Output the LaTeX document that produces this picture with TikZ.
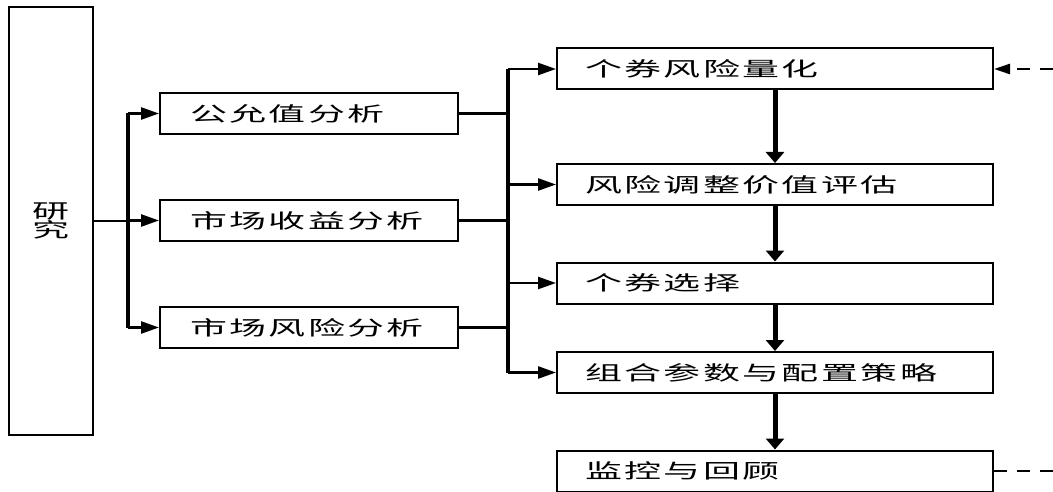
\documentclass[tikz,border=0pt]{standalone}
\usepackage{fontspec}
\usepackage{tikz}
\usetikzlibrary{arrows.meta,calc,positioning}
\newfontfamily\cjk[FakeStretch=1.85,LetterSpace=12]{Noto Sans CJK SC}
\tikzset{
  resbox/.style={draw, line width=2pt, minimum width=84pt, minimum height=428pt,
                 font=\cjk\fontsize{20}{19}\selectfont, align=center, inner sep=0pt},
  midbox/.style={draw, line width=2pt, minimum width=298pt, minimum height=41pt,
                 text width=238pt, align=left, font=\cjk\fontsize{20}{24}\selectfont},
  stepbox/.style={draw, line width=2pt, minimum width=436pt, minimum height=41pt,
                  text width=380pt, align=left, font=\cjk\fontsize{20}{24}\selectfont},
  wire/.style={line width=2.5pt},                                        % plain link
  bus/.style={line width=4.5pt},                                         % thick bus bar
  arr/.style={-{Triangle[length=18pt,width=12pt]}, line width=2.5pt},   % bus -> box
  flow/.style={-{Triangle[length=11pt,width=18pt]}, line width=5pt},    % step -> step
  fb/.style={dash pattern=on 13pt off 10pt, line width=2.5pt},         % feedback
  fbarr/.style={fb, -{Triangle[length=16pt,width=10pt]}},
}

\begin{document}
\begin{tikzpicture}[x=1pt,y=-1pt]
  \useasboundingbox (0,0) rectangle (1053,492);
  \def\LB{128}\def\RB{508}\def\MX{309}\def\SX{775}
  \node[resbox] (res) at (51,221) {研\\究};

  \node[midbox] (m1) at (\MX,113.5) {公允值分析};
  \node[midbox] (m2) at (\MX,220.5) {市场收益分析};
  \node[midbox] (m3) at (\MX,327.5) {市场风险分析};

  \node[stepbox] (s1) at (\SX,69)    {个券风险量化};
  \node[stepbox] (s2) at (\SX,184.5) {风险调整价值评估};
  \node[stepbox] (s3) at (\SX,283)   {个券选择};
  \node[stepbox] (s4) at (\SX,372.5) {组合参数与配置策略};
  \node[stepbox] (s5) at (\SX,471)   {监控与回顾};

  % left bus
  \coordinate (lb) at (\LB,0);
  \draw[wire] (res.east) -- (res.east -| lb);
  \draw[bus] (lb |- m1.west) -- (lb |- m3.west);
  \foreach \m in {m1,m2,m3}{\draw[arr] (lb |- \m.west) -- (\m.west);}

  % right bus
  \coordinate (rb) at (\RB,0);
  \foreach \m in {m1,m2,m3}{\draw[wire] (\m.east) -- (\m.east -| rb);}
  \draw[bus] (rb |- s1.west) -- (rb |- s4.west);
  \foreach \s in {s1,s2,s3,s4}{\draw[arr] (rb |- \s.west) -- (\s.west);}

  % steps
  \draw[flow] (s1.south) -- (s2.north);
  \draw[flow] (s2.south) -- (s3.north);
  \draw[flow] (s3.south) -- (s4.north);
  \draw[flow] (s4.south) -- (s5.north);

  % feedback stubs
  \coordinate (fbin) at (1053,69);
  \coordinate (fbout) at (1053,471);
  \draw[fbarr] (fbin) -- (s1.east);
  \draw[fb] (s5.east) -- (fbout);
\end{tikzpicture}
\end{document}
